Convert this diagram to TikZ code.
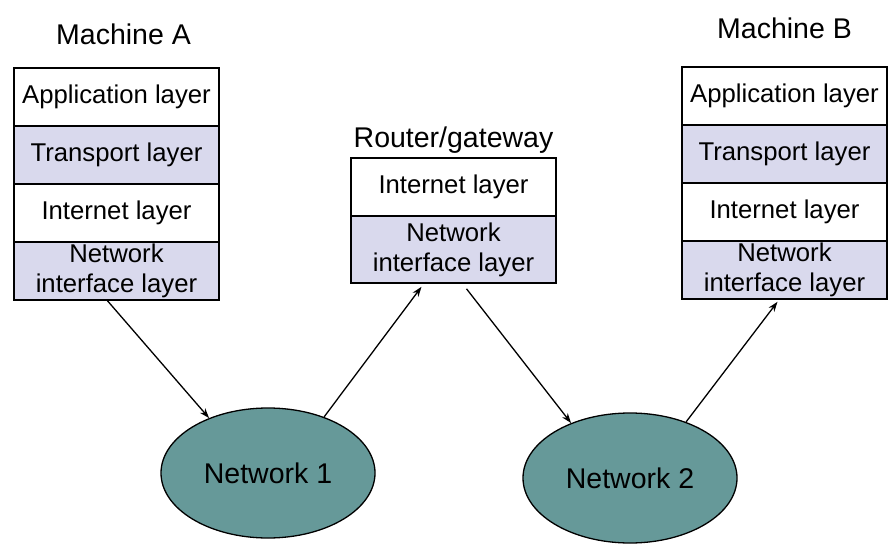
\documentclass[tikz,border=0pt]{standalone}
\usepackage{fontspec}
\setmainfont{Liberation Sans}
\usetikzlibrary{matrix, positioning, shapes.geometric, arrows.meta}

\definecolor{layerfill}{RGB}{217,217,237}
\definecolor{netfill}{RGB}{102,153,153}

\newcommand{\twolines}[2]{\parbox{195pt}{\centering #1\par #2}}

\tikzset{
  layer/.style = {draw, rectangle, anchor = center, line width = 1.6pt,
    minimum width = 205pt, minimum height = 58pt, inner sep = 0pt},
  network/.style = {draw, ellipse, fill = netfill, line width = 1.3pt,
    minimum width = 214pt, minimum height = 130pt, font = \bigtext},
  title/.style = {anchor = base, font = \bigtext},
  hop/.style = {-{Stealth[length = 10pt, width = 7pt]}, line width = 1.3pt},
}
\newcommand{\bigtext}{\fontsize{28.5}{33}\selectfont}

\begin{document}
\begin{tikzpicture}[x = 1pt, y = -1pt, font = \fontsize{25.7}{30}\selectfont]
  \useasboundingbox (0,0) rectangle (888,548);

  % machine A
  \matrix (stackA) [
    matrix of nodes,
    anchor = north west,
    inner sep = 0pt,
    row sep = -1.6pt,
    nodes = {layer},
    row 2/.style = {nodes = {fill = layerfill}},
    row 4/.style = {nodes = {fill = layerfill}},
  ] at (13, 67) {
    Application layer \\
    Transport layer \\
    Internet layer \\
    \twolines{Network}{interface layer} \\
  };
  \node (machineA) [title, xshift = 7pt, yshift = 22pt]
    at (stackA.north) {Machine A};

  % router
  \matrix (router) [
    matrix of nodes,
    anchor = north west,
    inner sep = 0pt,
    row sep = -1.6pt,
    nodes = {layer},
    row 2/.style = {nodes = {fill = layerfill, minimum height = 67pt}},
  ] at (350, 157) {
    Internet layer \\
    \twolines{Network}{interface layer} \\
  };
  \node (routerlabel) [title, yshift = 9pt]
    at (router.north) {Router/gateway};

  % machine B
  \matrix (stackB) [
    matrix of nodes,
    anchor = north west,
    inner sep = 0pt,
    row sep = -1.6pt,
    nodes = {layer},
    row 2/.style = {nodes = {fill = layerfill}},
    row 4/.style = {nodes = {fill = layerfill}},
  ] at (681, 66) {
    Application layer \\
    Transport layer \\
    Internet layer \\
    \twolines{Network}{interface layer} \\
  };
  \node (machineB) [title, yshift = 27pt]
    at (stackB.north) {Machine B};

  % networks
  \node (net1) [network] at (268, 473) {Network 1};
  \node (net2) [network] at (630, 478) {Network 2};

  \draw [hop] ([xshift = -9pt]stackA-4-1.south) -- (net1.137);
  \draw [hop] (net1.45) -- ([xshift = -32pt, yshift = -3pt]router-2-1.south);
  \draw [hop] ([xshift = 13pt, yshift = -5pt]router-2-1.south) -- (net2.137);
  \draw [hop] (net2.45) -- ([xshift = -7pt, yshift = -2pt]stackB-4-1.south);
\end{tikzpicture}
\end{document}
